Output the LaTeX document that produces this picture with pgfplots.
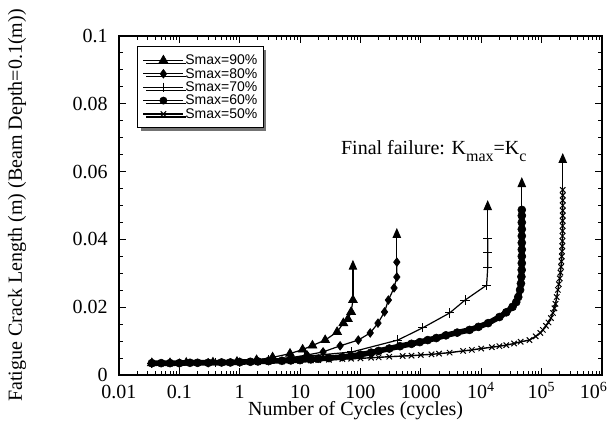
\documentclass[border=0pt]{standalone}
\usepackage{pgfplots}
\pgfplotsset{compat=1.18}
\usepackage{fontspec}
\setmainfont{Liberation Serif}
\newfontfamily\legendfont{Liberation Sans}
\usetikzlibrary{arrows.meta,shadows}

\begin{document}
\begin{tikzpicture}
\begin{axis}[
  at={(0,0)}, anchor=south west,
  scale only axis, width=241.5pt, height=169.5pt,
  xmode=log, log basis x=10,
  xmin=0.01, xmax=1000000, ymin=0, ymax=0.1,
  xtick={0.01,0.1,1,10,100,1000,10000,100000,1000000},
  xticklabels={0.01,0.1,1,10,100,1000,10\textsuperscript{4},10\textsuperscript{5},{\kern-8pt 10\textsuperscript{6}}},
  minor xtick={0.02,0.03,0.04,0.05,0.06,0.07,0.08,0.09,
               0.2,0.3,0.4,0.5,0.6,0.7,0.8,0.9,
               2,3,4,5,6,7,8,9,20,30,40,50,60,70,80,90,
               200,300,400,500,600,700,800,900,
               2000,3000,4000,5000,6000,7000,8000,9000,
               20000,30000,40000,50000,60000,70000,80000,90000,
               200000,300000,400000,500000,600000,700000,800000,900000},
  ytick={0,0.02,0.04,0.06,0.08,0.1},
  yticklabels={0,0.02,0.04,0.06,0.08,0.1},
  minor y tick num=3,
  tick align=inside,
  major tick length=3.5pt, minor tick length=2pt,
  every tick/.style={black, line width=0.5pt},
  axis line style={line width=0.7pt},
  tick label style={font=\fontsize{10}{12}\selectfont},
  xticklabel style={anchor=base, yshift=-12pt, inner sep=0pt},
  yticklabel style={xshift=-2.2pt},
  xlabel={Number of Cycles (cycles)},
  ylabel={Fatigue Crack Length (m) (Beam Depth=0.1(m))},
  label style={font=\fontsize{10}{12}\selectfont},
  xlabel style={at={(axis description cs:0.49,-0.078)}, anchor=north, inner sep=0pt},
  ylabel style={at={(axis description cs:-0.211,0.5)}, anchor=center},
  legend cell align=left,
  legend style={at={(axis description cs:0.0373,0.9705)}, anchor=north west,
    font=\legendfont\fontsize{7}{7}\selectfont,
    draw=black, line width=0.7pt, fill=white,
    inner xsep=2.5pt, inner ysep=3.5pt,
    nodes={inner sep=0.6pt, text height=4.9pt, text depth=0.6pt},
    drop shadow={shadow xshift=1.5pt, shadow yshift=-1.5pt, fill=black!55, opacity=1}},
  legend image code/.code={
    \draw[mark repeat=2, mark phase=2, #1] plot coordinates {(0pt,0pt) (10pt,0pt) (20pt,0pt)};},
]

% Smax = 90 %
\addplot[black, line width=0.6pt, mark=triangle*, mark size=2.5pt,
  mark options={solid, line width=0.4pt}] coordinates {
  (0.035,0.0035) (0.07,0.0035) (0.13,0.0036) (0.36,0.0037) (0.9,0.0039)
  (1.9,0.0044) (3.5,0.0052) (6.8,0.0063) (11,0.0075) (16,0.0087)
  (26,0.0103) (41,0.0127) (52,0.0153) (62,0.0165) (70,0.0186) (75,0.0221)
};
\addlegendentry{Smax=90\%}

% Smax = 80 %
\addplot[black, line width=0.6pt, mark=diamond*, mark size=2.1pt,
  mark options={solid, line width=0.4pt}] coordinates {
  (0.035,0.0035) (0.1,0.0035) (0.3,0.0036) (1,0.0038) (3,0.0043)
  (7,0.0051) (13,0.0059) (24,0.0068) (46,0.0086) (92,0.0103)
  (145,0.0124) (195,0.0153) (250,0.0186) (290,0.0221) (360,0.0257)
  (400,0.0289) (400,0.0333)
};
\addlegendentry{Smax=80\%}

% Smax = 70 %
\addplot[black, line width=0.6pt, mark=+, mark size=2.3pt,
  mark options={solid, line width=0.5pt}] coordinates {
  (0.035,0.0035) (0.4,0.0037) (3,0.0045) (12,0.0055) (72,0.0068)
  (415,0.0103) (1070,0.0139) (3000,0.0183) (5400,0.0221) (12300,0.0265)
  (12800,0.0316) (12800,0.0360) (12800,0.0404)
};
\addlegendentry{Smax=70\%}

% Smax = 60 %
\addplot[black, line width=2.8pt, mark=*, mark size=2pt,
  mark options={solid, line width=0.3pt},
  legend image post style={line width=0.6pt, mark size=1.8pt}] coordinates {
  (0.035,0.0035) (0.05,0.0035) (0.07,0.0035) (0.1,0.0035) (0.15,0.0036)
  (0.2,0.0036) (0.3,0.0036) (0.5,0.0037) (0.7,0.0037) (1,0.0038)
  (1.5,0.0039) (2,0.0040) (3,0.0041) (5,0.0042) (7,0.0043) (10,0.0044)
  (15,0.0046) (20,0.0048) (30,0.0050) (50,0.0053) (70,0.0056) (100,0.0060)
  (150,0.0066) (200,0.0071) (300,0.0078) (450,0.0085) (700,0.0092)
  (960,0.0097) (1300,0.0103) (1800,0.0109) (2600,0.0117) (4000,0.0125)
  (6400,0.0133) (9000,0.0142) (13000,0.0153) (20000,0.0171) (26000,0.0185)
  (33000,0.0201) (38000,0.0215) (41000,0.0230) (44000,0.0251) (45500,0.0270)
  (46300,0.0290) (46800,0.0310) (47000,0.0330) (47000,0.0350) (47000,0.0370)
  (47000,0.0390) (47000,0.0410) (47000,0.0430) (47000,0.0450) (47000,0.0470)
  (47000,0.0487)
};
\addlegendentry{Smax=60\%}

% Smax = 50 %
\addplot[black, line width=0.7pt, mark=x, mark size=1.9pt,
  mark options={solid, line width=0.5pt}] coordinates {
  (0.035,0.0034) (0.05,0.0034) (0.07,0.0034) (0.1,0.0035) (0.15,0.0035)
  (0.2,0.0035) (0.3,0.0036) (0.5,0.0036) (0.7,0.0037) (1,0.0037)
  (1.5,0.0038) (2,0.0038) (3,0.0039) (5,0.0040) (7,0.0041) (10,0.0042)
  (15,0.0043) (20,0.0044) (30,0.0045) (50,0.0047) (70,0.0048) (100,0.0049)
  (150,0.0051) (200,0.0052) (300,0.0054) (500,0.0056) (700,0.0057)
  (1000,0.0059) (1500,0.0061) (2000,0.0063) (3000,0.0066) (5000,0.0071)
  (7000,0.0074) (10000,0.0078) (15000,0.0082) (20000,0.0085) (26000,0.0088)
  (35000,0.0093) (45000,0.0098) (63000,0.0103) (80000,0.0114) (95000,0.0124)
  (105000,0.0133) (118000,0.0145) (130000,0.0155) (143000,0.0168)
  (154000,0.0183) (163000,0.0197) (170000,0.0210) (178000,0.0230)
  (186000,0.0251) (193000,0.0268) (200000,0.0285) (205000,0.0302)
  (210000,0.0319) (213000,0.0335) (216000,0.0350) (218000,0.0365)
  (220000,0.0380) (221000,0.0395) (222000,0.0410) (222500,0.0425)
  (223000,0.0440) (223500,0.0455) (224000,0.0470) (224000,0.0485)
  (224000,0.0500) (224000,0.0515) (224000,0.0530) (224000,0.0546)
};
\addlegendentry{Smax=50\%}

% final-failure arrows
\addplot[forget plot, black, line width=0.6pt, -{Triangle[length=5pt,width=4.2pt]}]
  coordinates {(75,0.0221) (75,0.0340)};
\addplot[forget plot, black, line width=0.6pt, -{Triangle[length=5pt,width=4.2pt]}]
  coordinates {(400,0.0333) (400,0.0434)};
\addplot[forget plot, black, line width=0.6pt, -{Triangle[length=5pt,width=4.2pt]}]
  coordinates {(12800,0.0404) (12800,0.0516)};
\addplot[forget plot, black, line width=0.6pt, -{Triangle[length=5pt,width=4.2pt]}]
  coordinates {(47000,0.0487) (47000,0.0584)};
\addplot[forget plot, black, line width=0.6pt, -{Triangle[length=5pt,width=4.2pt]}]
  coordinates {(224000,0.0546) (224000,0.0655)};

\node[anchor=base west, font=\fontsize{10}{12}\selectfont, inner sep=0pt]
  at (axis cs:47,0.0649)
  {Final failure: K\raisebox{-0.7ex}{\fontsize{8}{8}\selectfont max}=K\raisebox{-0.7ex}{\fontsize{8}{8}\selectfont c}};
\end{axis}
\pgfresetboundingbox
\useasboundingbox (-59.5pt,-29.5pt) rectangle (246pt,187.5pt);
\end{tikzpicture}
\end{document}
